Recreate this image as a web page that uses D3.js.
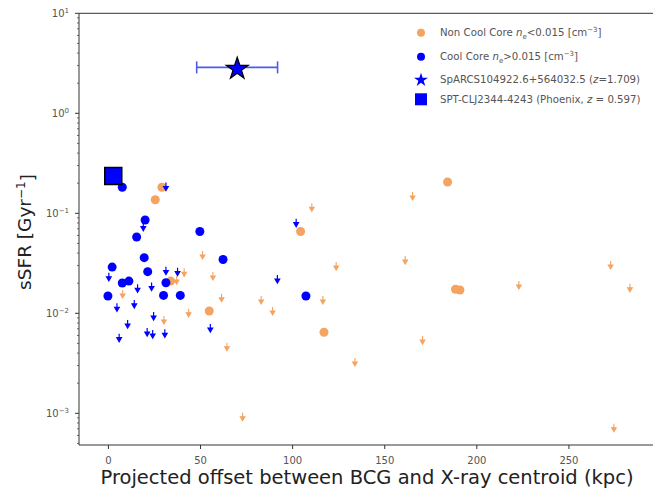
<!DOCTYPE html>
<html>
<head>
<meta charset="utf-8">
<script src="https://cdn.jsdelivr.net/npm/d3@7"></script>
<style>
    body { margin: 0; background: #fff; }
    svg { display: block; font-family: "DejaVu Sans", sans-serif; }
</style>
</head>
<body>
<svg></svg>
<script>
// [offset kpc, sSFR Gyr^-1]
const coolCoreDetected = [
    [7.8, 0.182], [20.2, 0.0857], [15.6, 0.058], [49.9, 0.0658], [62.5, 0.0345],
    [19.7, 0.036], [2.3, 0.029], [21.6, 0.0261], [7.8, 0.0201], [11.4, 0.021],
    [31.5, 0.0202], [0, 0.0149], [30.2, 0.0151], [39.3, 0.0151], [107.5, 0.0149]
]
const coolCoreLimits = [
    [31.5, 0.185], [19.2, 0.0735], [0.5, 0.0232], [31.5, 0.0267], [37.8, 0.0261],
    [92.0, 0.022], [16.1, 0.0178], [23.7, 0.0185], [4.9, 0.0115], [14.3, 0.0124],
    [24.8, 0.0094], [10.7, 0.0078], [55.6, 0.00713], [21.3, 0.0065], [24.3, 0.0062],
    [30.9, 0.0063], [6.1, 0.0057], [102.2, 0.0805]
]
const nonCoolDetected = [
    [29.3, 0.182], [25.7, 0.1368], [34.0, 0.021], [55.0, 0.01054], [104.6, 0.0658],
    [117.3, 0.00646], [184.4, 0.2056], [188.7, 0.0174], [191.1, 0.0171]
]
const nonCoolLimits = [
    [51.4, 0.0383], [41.4, 0.0257], [37.3, 0.0215], [57.0, 0.0236], [8.0, 0.0156],
    [61.7, 0.0143], [83.2, 0.0136], [89.4, 0.01054], [43.8, 0.0101], [30.4, 0.00857],
    [64.6, 0.00463], [110.7, 0.1148], [123.9, 0.0297], [116.7, 0.0136], [134.1, 0.00326],
    [165.4, 0.149], [161.4, 0.0341], [223.1, 0.0192], [170.8, 0.0054], [272.9, 0.0304],
    [283.4, 0.018], [274.7, 0.000718], [73.1, 0.000925]
]
const spArcs = { x: 70.2, y: 2.88, xLow: 48.2, xHigh: 92.1 }
const phoenix = { x: 2.9, y: 0.236 }

const xTicks = [0, 50, 100, 150, 200, 250]
const yTicks = [-3, -2, -1, 0, 1]

const blauw = "#0000ff"
const oranje = "#f4a460"

const width = 653
const height = 491
const plot = { left: 79, right: 655, top: 13.3, bottom: 445 }

const svg = d3.select("svg")
    .attr("width", width)
    .attr("height", height)

const x = d3.scaleLinear()
    .domain([-15.7, 297])
    .range([plot.left, plot.right])

const y = d3.scaleLog()
    .domain([4.82e-4, 10])
    .range([plot.bottom, plot.top])

// assen
const xAxis = svg.append("g")
    .attr("transform", `translate(0,${plot.bottom})`)
    .call(d3.axisBottom(x).tickValues(xTicks).tickSize(4).tickPadding(8).tickFormat(d3.format("d")))
xAxis.select(".domain").remove()
xAxis.selectAll(".tick line").attr("stroke", "#333")
xAxis.selectAll(".tick text")
    .attr("fill", "#555")
    .style("font-size", "10px")
    .style("font-family", "DejaVu Sans, sans-serif")

const minorTicks = []
for (let e = -4; e < 1; e++) {
    for (let m = 2; m < 10; m++) {
        const v = m * Math.pow(10, e)
        if (v > y.domain()[0] && v < 10) minorTicks.push(v)
    }
}
svg.append("g")
    .selectAll("line")
    .data(minorTicks)
    .enter()
    .append("line")
    .attr("x1", plot.left - 2)
    .attr("x2", plot.left)
    .attr("y1", d => y(d))
    .attr("y2", d => y(d))
    .attr("stroke", "#333")
    .attr("stroke-width", 0.7)

const yTick = svg.append("g")
    .selectAll("g")
    .data(yTicks)
    .enter()
    .append("g")
    .attr("transform", d => `translate(${plot.left},${y(Math.pow(10, d))})`)
yTick.append("line")
    .attr("x1", -4)
    .attr("x2", 0)
    .attr("stroke", "#333")
const yLabel = yTick.append("text")
    .attr("x", -10)
    .attr("dy", "0.35em")
    .attr("text-anchor", "end")
    .attr("fill", "#555")
    .style("font-size", "10px")
yLabel.append("tspan").text("10")
yLabel.append("tspan")
    .attr("dy", "-0.6em")
    .style("font-size", "7px")
    .text(d => d < 0 ? "\u2212" + Math.abs(d) : d)

// kader
svg.append("line")
    .attr("x1", plot.left).attr("x2", plot.right)
    .attr("y1", plot.bottom).attr("y2", plot.bottom)
    .attr("stroke", "#333")
svg.append("line")
    .attr("x1", plot.left).attr("x2", plot.right)
    .attr("y1", plot.top).attr("y2", plot.top)
    .attr("stroke", "#333")
svg.append("line")
    .attr("x1", plot.left).attr("x2", plot.left)
    .attr("y1", plot.top).attr("y2", plot.bottom)
    .attr("stroke", "#333")

svg.append("text")
    .attr("x", 367)
    .attr("y", 484)
    .attr("text-anchor", "middle")
    .attr("fill", "#222")
    .style("font-size", "19.5px")
    .text("Projected offset between BCG and X-ray centroid (kpc)")

const yTitle = svg.append("text")
    .attr("transform", "translate(31,232) rotate(-90)")
    .attr("text-anchor", "middle")
    .attr("fill", "#222")
    .style("font-size", "18.5px")
yTitle.append("tspan").text("sSFR [Gyr")
yTitle.append("tspan").attr("dy", "-0.5em").style("font-size", "12px").text("\u22121")
yTitle.append("tspan").attr("dy", "0.5em").text("]")

// pijltjes voor bovengrenzen
const pijl = "M0,-4V1M-2.3,0L2.3,0L0,4Z"

function tekenPijlen(data, kleur, dikte) {
    svg.append("g")
        .selectAll("path")
        .data(data)
        .enter()
        .append("path")
        .attr("transform", d => `translate(${x(d[0])},${y(d[1])})`)
        .attr("d", pijl)
        .attr("fill", kleur)
        .attr("stroke", kleur)
        .attr("stroke-width", dikte)
}

function tekenCirkels(data, kleur) {
    svg.append("g")
        .selectAll("circle")
        .data(data)
        .enter()
        .append("circle")
        .attr("cx", d => x(d[0]))
        .attr("cy", d => y(d[1]))
        .attr("r", 4.5)
        .attr("fill", kleur)
}

tekenPijlen(nonCoolLimits, oranje, 1.1)
tekenCirkels(nonCoolDetected, oranje)
tekenPijlen(coolCoreLimits, blauw, 1.2)
tekenCirkels(coolCoreDetected, blauw)

// SpARCS met foutbalk
const sy = y(spArcs.y)
svg.append("line")
    .attr("x1", x(spArcs.xLow)).attr("x2", x(spArcs.xHigh))
    .attr("y1", sy).attr("y2", sy)
    .attr("stroke", "#4a5cf0")
    .attr("stroke-width", 1.6)
svg.selectAll(".cap")
    .data([spArcs.xLow, spArcs.xHigh])
    .enter()
    .append("line")
    .attr("x1", d => x(d)).attr("x2", d => x(d))
    .attr("y1", sy - 6).attr("y2", sy + 6)
    .attr("stroke", "#4a5cf0")
    .attr("stroke-width", 1.6)
svg.append("path")
    .attr("transform", `translate(${x(spArcs.x)},${sy + 1.5})`)
    .attr("d", d3.symbol(d3.symbolStar, 150))
    .attr("fill", blauw)
    .attr("stroke", "#000")
    .attr("stroke-width", 1.2)

// Phoenix
svg.append("rect")
    .attr("x", x(phoenix.x) - 8.5)
    .attr("y", y(phoenix.y) - 8.5)
    .attr("width", 17)
    .attr("height", 17)
    .attr("fill", blauw)
    .attr("stroke", "#000")
    .attr("stroke-width", 1.5)

// legenda
const legenda = svg.append("g")
    .attr("transform", "translate(421,0)")
    .style("font-size", "10.2px")
    .attr("fill", "#555")

legenda.append("circle").attr("cy", 32.7).attr("r", 4).attr("fill", oranje)
legenda.append("circle").attr("cy", 56.7).attr("r", 4).attr("fill", blauw)
legenda.append("path")
    .attr("transform", "translate(0,80)")
    .attr("d", d3.symbol(d3.symbolStar, 60))
    .attr("fill", blauw)
legenda.append("rect")
    .attr("x", -6).attr("y", 93.3)
    .attr("width", 12).attr("height", 12)
    .attr("fill", blauw)

function dichtheid(tekst, teken) {
    return [
        { t: tekst + " " }, { t: "n", i: true }, { t: "e", sub: true },
        { t: teken + "0.015 [cm" }, { t: "\u22123", sup: true }, { t: "]", back: true }
    ]
}

const regels = [
    { y: 36, delen: dichtheid("Non Cool Core", "<") },
    { y: 60, delen: dichtheid("Cool Core", ">") },
    { y: 83, delen: [{ t: "SpARCS104922.6+564032.5 (" }, { t: "z", i: true }, { t: "=1.709)" }] },
    { y: 103, delen: [{ t: "SPT-CLJ2344-4243 (Phoenix, " }, { t: "z", i: true }, { t: " = 0.597)" }] }
]

regels.forEach(regel => {
    const tekst = legenda.append("text").attr("x", 19).attr("y", regel.y)
    let shift = 0
    regel.delen.forEach(deel => {
        const ts = tekst.append("tspan").text(deel.t)
        let dy = 0
        if (deel.sub) dy = 2.5
        if (deel.sup) dy = -4
        ts.attr("dy", dy - shift)
        shift = dy
        if (deel.i) ts.style("font-style", "italic")
        if (deel.sub || deel.sup) ts.style("font-size", "7px")
    })
})
</script>
</body>
</html>
